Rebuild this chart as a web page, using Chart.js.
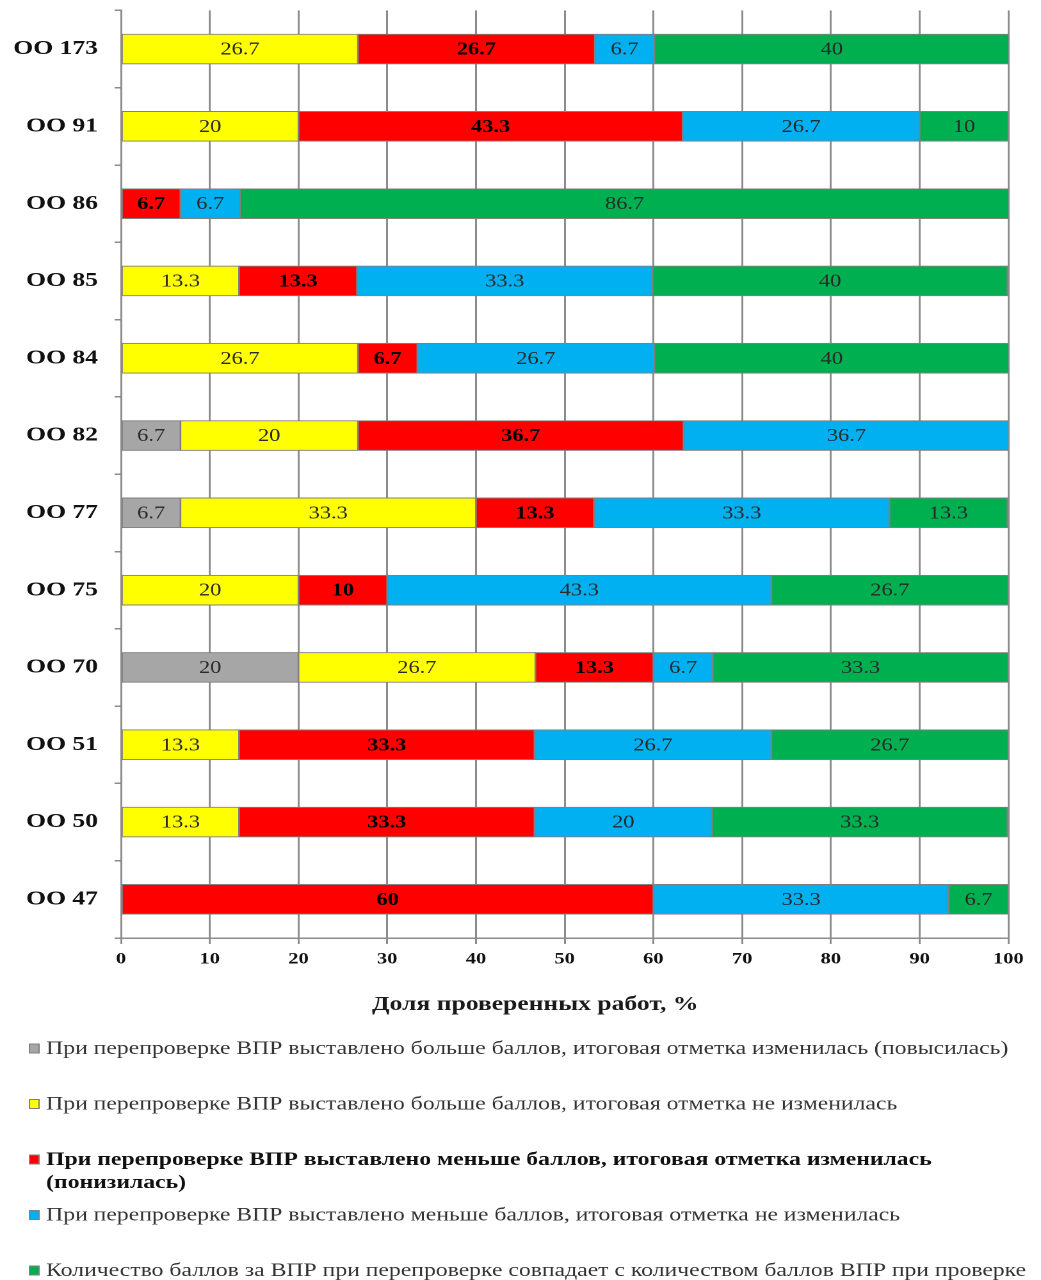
<!DOCTYPE html>
<html>
<head>
<meta charset="utf-8">
<script src="https://cdn.jsdelivr.net/npm/chart.js@4.4.1/dist/chart.umd.min.js"></script>
<style>
  html, body { margin: 0; padding: 0; background: #fff; overflow: hidden; }
  #wrap { width: 813px; height: 1280px; transform: scaleX(1.2804); transform-origin: 0 0; }
  canvas { display: block; }
</style>
</head>
<body>
<div id="wrap"><canvas id="c" width="813" height="1280"></canvas></div>
<script>
// ---- data ----
const categories = ['ОО 173', 'ОО 91', 'ОО 86', 'ОО 85', 'ОО 84', 'ОО 82', 'ОО 77', 'ОО 75', 'ОО 70', 'ОО 51', 'ОО 50', 'ОО 47'];
const seriesNames = [
  'При перепроверке ВПР выставлено больше баллов, итоговая отметка изменилась (повысилась)',
  'При перепроверке ВПР выставлено больше баллов, итоговая отметка не изменилась',
  'При перепроверке ВПР выставлено меньше баллов, итоговая отметка изменилась (понизилась)',
  'При перепроверке ВПР выставлено меньше баллов, итоговая отметка не изменилась',
  'Количество баллов за ВПР при перепроверке совпадает с количеством баллов ВПР при проверке'
];
const higherChanged   = [null, null, null, null, null, 6.7, 6.7, null, 20, null, null, null];
const higherUnchanged = [26.7, 20, null, 13.3, 26.7, 20, 33.3, 20, 26.7, 13.3, 13.3, null];
const lowerChanged    = [26.7, 43.3, 6.7, 13.3, 6.7, 36.7, 13.3, 10, 13.3, 33.3, 33.3, 60];
const lowerUnchanged  = [6.7, 26.7, 6.7, 33.3, 26.7, 36.7, 33.3, 43.3, 6.7, 26.7, 20, 33.3];
const sameScore       = [40, 10, 86.7, 40, 40, null, 13.3, 26.7, 33.3, 26.7, 33.3, 6.7];
const xTicks = [0, 10, 20, 30, 40, 50, 60, 70, 80, 90, 100];
const axisTitle = 'Доля проверенных работ, %';

const seriesValues = [higherChanged, higherUnchanged, lowerChanged, lowerUnchanged, sameScore];
const seriesColors = ['#a6a6a6', '#ffff00', '#ff0000', '#00b0f0', '#00b050'];
const seriesBold = [false, false, true, false, false];

const SERIF = '"Liberation Serif", "Times New Roman", serif';

const datasets = seriesValues.map((vals, i) => ({
  label: seriesNames[i],
  data: vals,
  backgroundColor: seriesColors[i],
  borderColor: '#808080',
  borderWidth: 1,
  borderSkipped: false,
  barThickness: 30
}));

const valueLabels = {
  id: 'valueLabels',
  afterDatasetsDraw(chart) {
    const ctx = chart.ctx;
    ctx.save();
    ctx.textAlign = 'center';
    ctx.textBaseline = 'middle';
    chart.data.datasets.forEach((ds, di) => {
      const meta = chart.getDatasetMeta(di);
      ctx.font = (seriesBold[di] ? 'bold ' : '') + '17.5px ' + SERIF;
      ctx.fillStyle = seriesBold[di] ? '#000' : '#2a2a2a';
      meta.data.forEach((el, j) => {
        const v = ds.data[j];
        if (v === null || v === undefined) return;
        const p = el.getProps(['x', 'y', 'base'], true);
        ctx.fillText(String(v), (p.x + p.base) / 2, p.y + 1);
      });
    });
    ctx.restore();
  }
};

const titleAndLegend = {
  id: 'titleAndLegend',
  afterDraw(chart) {
    const ctx = chart.ctx;
    const area = chart.chartArea;
    ctx.save();
    // axis title
    ctx.font = 'bold 20px ' + SERIF;
    ctx.fillStyle = '#1a1a1a';
    ctx.textAlign = 'center';
    ctx.textBaseline = 'middle';
    ctx.fillText(axisTitle, (area.left + area.right) / 2 - 23, area.bottom + 67);

    // legend
    const startY = area.bottom + 111;
    const step = 55.5;
    const textX = 36;
    const maxW = 790;
    ctx.textAlign = 'left';
    chart.data.datasets.forEach((ds, i) => {
      const y = startY + i * step;
      ctx.fillStyle = ds.backgroundColor;
      ctx.strokeStyle = '#808080';
      ctx.lineWidth = 1;
      ctx.fillRect(23, y - 5, 7.5, 9);
      ctx.strokeRect(23, y - 5, 7.5, 9);
      ctx.font = (seriesBold[i] ? 'bold ' : '') + '18.5px ' + SERIF;
      ctx.fillStyle = seriesBold[i] ? '#111' : '#333';
      const words = ds.label.split(' ');
      let line = '';
      let ly = y;
      words.forEach(w => {
        const test = line ? line + ' ' + w : w;
        if (ctx.measureText(test).width > maxW && line) {
          ctx.fillText(line, textX, ly);
          line = w;
          ly += 23;
        } else {
          line = test;
        }
      });
      ctx.fillText(line, textX, ly);
    });
    ctx.restore();
  }
};

new Chart(document.getElementById('c'), {
  type: 'bar',
  data: { labels: categories, datasets },
  plugins: [valueLabels, titleAndLegend],
  options: {
    indexAxis: 'y',
    responsive: false,
    animation: false,
    devicePixelRatio: 2,
    layout: { padding: { left: 0, right: 25.5, top: 10.4, bottom: 306 } },
    plugins: { legend: { display: false }, tooltip: { enabled: false } },
    scales: {
      x: {
        stacked: true,
        min: 0,
        max: 100,
        afterBuildTicks(scale) { scale.ticks = xTicks.map(v => ({ value: v })); },
        afterFit(scale) { scale.height = 36; },
        grid: { color: '#8c8c8c', lineWidth: 1.5, tickLength: 6, drawTicks: true },
        border: { color: '#8c8c8c', width: 1.5 },
        ticks: {
          padding: 6,
          color: '#111',
          font: { family: SERIF, size: 16, weight: 'bold' }
        }
      },
      y: {
        stacked: true,
        afterFit(scale) { scale.width = 94.5; scale.paddingTop = 0; scale.paddingBottom = 0; },
        grid: { display: true, drawOnChartArea: false, offset: true, tickLength: 5, color: '#8c8c8c', lineWidth: 1.5 },
        border: { color: '#8c8c8c', width: 1.5 },
        ticks: {
          padding: 13,
          color: '#111',
          font: { family: SERIF, size: 20, weight: 'bold' }
        }
      }
    }
  }
});
</script>
</body>
</html>
